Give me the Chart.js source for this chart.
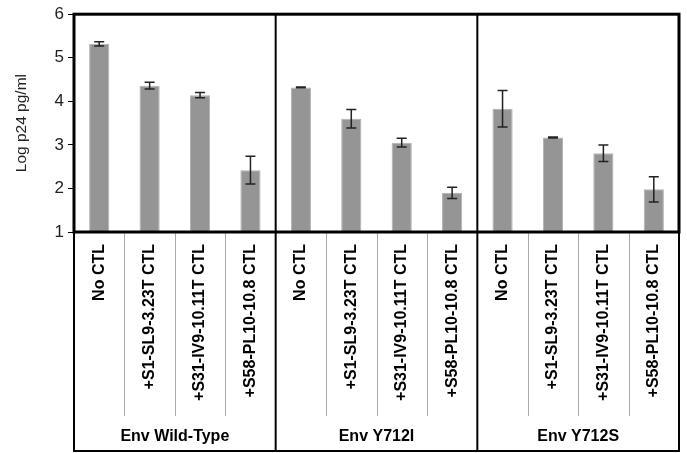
<!DOCTYPE html>
<html lang="en">
<head>
    <meta charset="UTF-8">
    <title>Log p24</title>
    <script src="https://cdn.jsdelivr.net/npm/chart.js"></script>
    <style>
        body { margin: 0; background: white; }
        #wrap { width: 687px; height: 453px; position: relative; }
    </style>
</head>
<body>
    <div id="wrap"><canvas id="p24Chart"></canvas></div>

    <script>
        // data
        const categories = [
            'No CTL', '+S1-SL9-3.23T CTL', '+S31-IV9-10.11T CTL', '+S58-PL10-10.8 CTL',
            'No CTL', '+S1-SL9-3.23T CTL', '+S31-IV9-10.11T CTL', '+S58-PL10-10.8 CTL',
            'No CTL', '+S1-SL9-3.23T CTL', '+S31-IV9-10.11T CTL', '+S58-PL10-10.8 CTL'
        ];
        const groups = ['Env Wild-Type', 'Env Y712I', 'Env Y712S'];
        const perGroup = 4;
        const logP24 = [5.32, 4.36, 4.14, 2.42, 4.32, 3.60, 3.05, 1.90, 3.83, 3.17, 2.81, 1.98];
        const errors = [0.05, 0.08, 0.06, 0.32, 0.01, 0.21, 0.10, 0.13, 0.42, 0.01, 0.19, 0.29];
        const yTicks = [1, 2, 3, 4, 5, 6];

        // error bars, frame and group boxes
        const decorations = {
            id: 'decorations',
            afterDatasetsDraw(chart) {
                const ctx = chart.ctx;
                const x = chart.scales.x, y = chart.scales.y;
                const area = chart.chartArea;
                const bottom = chart.height - 2;

                ctx.save();
                // error bars
                ctx.strokeStyle = '#222';
                ctx.lineWidth = 1.5;
                logP24.forEach((v, i) => {
                    const cx = x.getPixelForValue(i);
                    const hi = y.getPixelForValue(v + errors[i]);
                    const lo = y.getPixelForValue(v - errors[i]);
                    ctx.beginPath();
                    ctx.moveTo(cx, hi); ctx.lineTo(cx, lo);
                    ctx.moveTo(cx - 5, hi); ctx.lineTo(cx + 5, hi);
                    ctx.moveTo(cx - 5, lo); ctx.lineTo(cx + 5, lo);
                    ctx.stroke();
                });

                // thin separators between categories in the label area
                ctx.strokeStyle = '#aaa';
                ctx.lineWidth = 1;
                const step = x.getPixelForValue(1) - x.getPixelForValue(0);
                for (let i = 1; i < categories.length; i++) {
                    if (i % perGroup === 0) continue;
                    const sx = Math.round(x.getPixelForValue(i) - step / 2) + 0.5;
                    ctx.beginPath();
                    ctx.moveTo(sx, area.bottom);
                    ctx.lineTo(sx, area.bottom + 184);
                    ctx.stroke();
                }

                // group separators through plot and label box
                ctx.strokeStyle = '#000';
                ctx.lineWidth = 2;
                for (let g = 1; g < groups.length; g++) {
                    const sx = x.getPixelForValue(g * perGroup) - step / 2;
                    ctx.beginPath();
                    ctx.moveTo(sx, area.top);
                    ctx.lineTo(sx, bottom);
                    ctx.stroke();
                }
                // lower box
                ctx.beginPath();
                ctx.moveTo(area.left, area.bottom);
                ctx.lineTo(area.left, bottom);
                ctx.lineTo(area.right, bottom);
                ctx.lineTo(area.right, area.bottom);
                ctx.stroke();

                // plot frame
                ctx.lineWidth = 3;
                ctx.strokeRect(area.left, area.top, area.right - area.left, area.bottom - area.top);

                // group labels
                ctx.fillStyle = '#000';
                ctx.font = 'bold 16px "Liberation Sans", Arial, sans-serif';
                ctx.textAlign = 'center';
                ctx.textBaseline = 'middle';
                groups.forEach((name, g) => {
                    const a = x.getPixelForValue(g * perGroup);
                    const b = x.getPixelForValue(g * perGroup + perGroup - 1);
                    ctx.fillText(name, (a + b) / 2, area.bottom + 205);
                });
                ctx.restore();
            }
        };

        const ctx = document.getElementById('p24Chart').getContext('2d');
        new Chart(ctx, {
            type: 'bar',
            data: {
                labels: categories,
                datasets: [{
                    data: logP24,
                    base: 1,
                    backgroundColor: '#959595',
                    borderColor: '#b0b0b0',
                    borderWidth: 1,
                    categoryPercentage: 1,
                    barPercentage: 0.4
                }]
            },
            options: {
                responsive: true,
                maintainAspectRatio: false,
                animation: false,
                layout: { padding: { top: 12, right: 8, bottom: 0, left: 0 } },
                plugins: { legend: { display: false }, tooltip: { enabled: false } },
                scales: {
                    x: {
                        grid: { display: false, drawTicks: false },
                        border: { display: false },
                        ticks: {
                            autoSkip: false,
                            minRotation: 90,
                            maxRotation: 90,
                            padding: 12,
                            color: '#000',
                            font: { family: '"Liberation Sans", Arial, sans-serif', size: 16, weight: 'bold' }
                        },
                        afterFit: (scale) => { scale.height = 221; }
                    },
                    y: {
                        min: 1,
                        max: 6,
                        afterBuildTicks: (scale) => { scale.ticks = yTicks.map(v => ({ value: v })); },
                        grid: { drawOnChartArea: false, drawTicks: true, tickLength: 6, tickColor: '#000' },
                        border: { display: false },
                        ticks: {
                            padding: 4,
                            color: '#222',
                            font: { family: '"Liberation Sans", Arial, sans-serif', size: 17 }
                        },
                        title: {
                            display: true,
                            text: 'Log p24 pg/ml',
                            color: '#222',
                            padding: { top: 12, bottom: 0 },
                            font: { family: '"Liberation Sans", Arial, sans-serif', size: 15.5 }
                        },
                        afterFit: (scale) => { scale.width = 74; }
                    }
                }
            },
            plugins: [decorations]
        });
    </script>
</body>
</html>
